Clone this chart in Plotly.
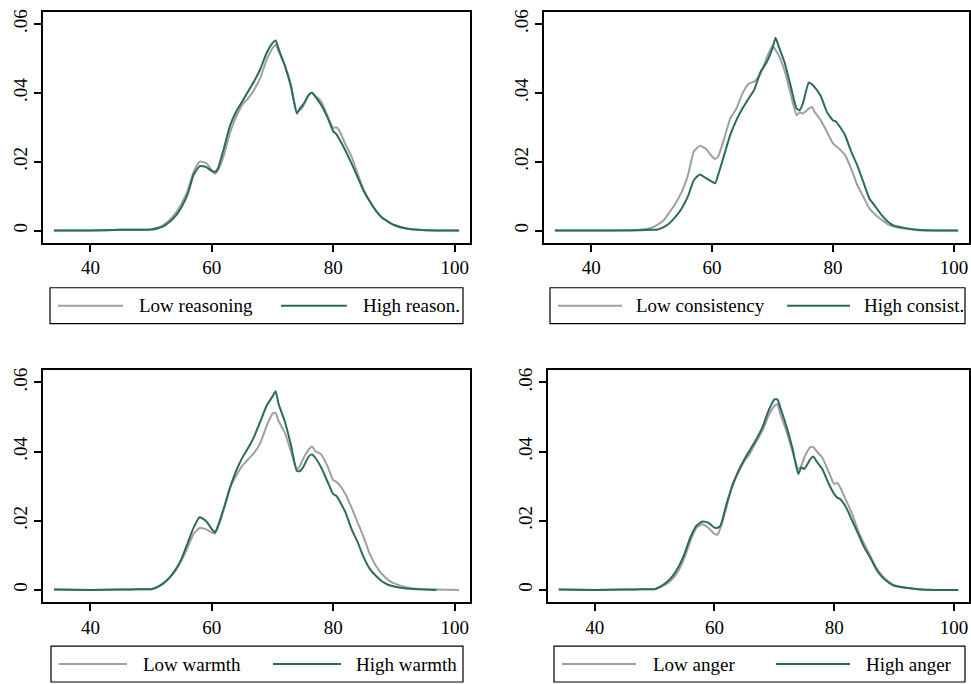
import plotly.graph_objects as go

# Common evaluation grid (score)
x_grid = [34, 40, 45, 48, 50, 51, 52, 53, 54, 55, 56, 57, 58, 59, 60, 60.5, 61, 62, 63, 64,
          65, 66, 67, 68, 69, 70, 70.5, 71, 72, 73, 74, 74.5, 75, 76, 76.5, 77, 78, 79, 80, 80.5,
          81, 82, 83, 84, 85, 86, 87, 88, 89, 90, 92, 94, 97, 100.7]

low_reasoning = [0, 0, 0.0002, 0.0002, 0.0003, 0.0008, 0.0016, 0.003, 0.005, 0.0078, 0.0115, 0.017,
                 0.020, 0.0197, 0.0175, 0.0165, 0.0175, 0.022, 0.0285, 0.033, 0.0365, 0.0385, 0.041,
                 0.0445, 0.0495, 0.053, 0.054, 0.052, 0.048, 0.0425, 0.0344, 0.035, 0.036, 0.0395,
                 0.040, 0.0392, 0.0375, 0.0335, 0.0298, 0.030, 0.029, 0.025, 0.0215, 0.0165, 0.0118,
                 0.0085, 0.0058, 0.0038, 0.0026, 0.0016, 0.0006, 0.0002, 0, 0]
high_reasoning = [0, 0, 0.0002, 0.0002, 0.0003, 0.0006, 0.0012, 0.0025, 0.0042, 0.0068, 0.0105, 0.0162,
                  0.0187, 0.0185, 0.0173, 0.017, 0.018, 0.024, 0.0305, 0.0345, 0.0375, 0.0405, 0.0435,
                  0.047, 0.0515, 0.0545, 0.0552, 0.0527, 0.048, 0.042, 0.034, 0.0355, 0.0365, 0.0395,
                  0.040, 0.039, 0.0365, 0.033, 0.0288, 0.028, 0.0265, 0.0232, 0.0195, 0.0155, 0.0115,
                  0.0085, 0.0058, 0.0038, 0.0026, 0.0016, 0.0006, 0.0002, 0, 0]

low_consistency = [0, 0, 0.0001, 0.0002, 0.0008, 0.0017, 0.003, 0.0054, 0.008, 0.0113, 0.016, 0.023,
                   0.0246, 0.0237, 0.0215, 0.0208, 0.0215, 0.0267, 0.0325, 0.0354, 0.0397, 0.0426,
                   0.0433, 0.0455, 0.050, 0.0536, 0.0525, 0.051, 0.0464, 0.0397, 0.0335, 0.0344, 0.034,
                   0.0354, 0.0359, 0.0344, 0.032, 0.0287, 0.0253, 0.0245, 0.0238, 0.0219, 0.018, 0.0133,
                   0.0099, 0.0065, 0.0046, 0.0032, 0.0019, 0.0012, 0.0005, 0.0001, 0, 0]
high_consistency = [0, 0, 0, 0.0001, 0.0002, 0.0003, 0.001, 0.0022, 0.0041, 0.0065, 0.0099, 0.0147,
                    0.0163, 0.0152, 0.0142, 0.0137, 0.0161, 0.0219, 0.0277, 0.032, 0.0354, 0.0382,
                    0.041, 0.046, 0.0488, 0.053, 0.056, 0.0536, 0.0488, 0.042, 0.0354, 0.035, 0.0368,
                    0.043, 0.0425, 0.0416, 0.039, 0.0344, 0.032, 0.0317, 0.0305, 0.0277, 0.023, 0.019,
                    0.0142, 0.0094, 0.007, 0.0046, 0.0027, 0.0015, 0.0007, 0.0002, 0, 0]

low_warmth = [0.0001, 0, 0.0001, 0.0002, 0.0002, 0.0008, 0.0019, 0.0035, 0.0056, 0.0085, 0.0123, 0.0162,
              0.0179, 0.0176, 0.0166, 0.0163, 0.018, 0.0234, 0.0296, 0.033, 0.0359, 0.0378, 0.0397,
              0.0426, 0.0474, 0.051, 0.0512, 0.0488, 0.0455, 0.0402, 0.0349, 0.0358, 0.0378, 0.0407,
              0.0415, 0.0402, 0.0392, 0.0359, 0.0317, 0.0313, 0.0304, 0.0277, 0.0238, 0.0195, 0.0152,
              0.0104, 0.007, 0.0046, 0.0029, 0.0019, 0.0008, 0.0003, 0.0001, 0]
high_warmth = [0.0001, 0, 0.0001, 0.0002, 0.0002, 0.0008, 0.0019, 0.0035, 0.0058, 0.009, 0.0135, 0.018,
               0.021, 0.020, 0.0176, 0.0166, 0.0185, 0.0238, 0.0296, 0.0344, 0.0382, 0.0411, 0.0445,
               0.0488, 0.0532, 0.056, 0.0575, 0.0537, 0.0488, 0.0421, 0.0344, 0.0344, 0.0354, 0.0387,
               0.0392, 0.0383, 0.0354, 0.0315, 0.0277, 0.0272, 0.0258, 0.0224, 0.0176, 0.0138, 0.0094,
               0.0061, 0.0041, 0.0025, 0.0015, 0.001, 0.0004, 0.0002, 0, None]

low_anger = [0.0001, 0, 0.0001, 0.0002, 0.0002, 0.0008, 0.0017, 0.0032, 0.0056, 0.0094, 0.0142, 0.018,
             0.019, 0.0179, 0.0162, 0.016, 0.018, 0.0238, 0.0306, 0.034, 0.0373, 0.0397, 0.043, 0.046,
             0.0503, 0.0532, 0.0537, 0.0508, 0.046, 0.0402, 0.035, 0.036, 0.0383, 0.0413, 0.0413,
             0.0402, 0.0383, 0.0344, 0.0306, 0.031, 0.0296, 0.0258, 0.0219, 0.0171, 0.0133, 0.0099,
             0.0065, 0.0041, 0.0025, 0.0014, 0.0006, 0.0002, 0, 0]
high_anger = [0.0001, 0, 0.0001, 0.0002, 0.0002, 0.001, 0.0022, 0.004, 0.0067, 0.0105, 0.0153, 0.0186,
              0.0198, 0.0194, 0.018, 0.018, 0.0186, 0.0248, 0.0301, 0.0344, 0.0378, 0.0407, 0.0436,
              0.047, 0.0517, 0.0551, 0.0551, 0.0527, 0.0474, 0.0411, 0.0335, 0.0354, 0.035, 0.0378,
              0.0386, 0.0373, 0.035, 0.031, 0.0277, 0.0267, 0.0263, 0.0238, 0.02, 0.0162, 0.0123,
              0.0094, 0.006, 0.0037, 0.0022, 0.0012, 0.0006, 0.0002, 0, 0]

x_ticks = [40, 60, 80, 100]
y_ticks = [0, 0.02, 0.04, 0.06]
y_tick_labels = ["0", ".02", ".04", ".06"]

panels = [
    ("Low reasoning", "High reason.", low_reasoning, high_reasoning),
    ("Low consistency", "High consist.", low_consistency, high_consistency),
    ("Low warmth", "High warmth", low_warmth, high_warmth),
    ("Low anger", "High anger", low_anger, high_anger),
]

W, H = 971, 684
GRAY = "#a0a0a0"
GREEN = "#2b6a62"
FONT = "Liberation Serif, Times New Roman, serif"

# pixel layout for each panel: plot box (x0, x1, ytop, ybottom), legend box and items
boxes = [
    dict(px=(43, 470), py=(9, 241), leg=(50, 463, 286, 322), s1=(58, 123), t1=137, s2=(281, 347), t2=361),
    dict(px=(544, 969), py=(9, 241), leg=(550, 965, 286, 322), s1=(558, 622), t1=634, s2=(787, 850), t2=862),
    dict(px=(43, 470), py=(369, 602), leg=(51, 463, 646, 682), s1=(59, 127), t1=141, s2=(273, 341), t2=354),
    dict(px=(548, 969), py=(369, 602), leg=(554, 965, 646, 682), s1=(562, 636), t1=651, s2=(776, 850), t2=864),
]

fig = go.Figure()
shapes = []
annotations = []

for i, ((lo_name, hi_name, lo, hi), b) in enumerate(zip(panels, boxes)):
    k = "" if i == 0 else str(i + 1)
    xa, ya = "x" + k, "y" + k
    fig.add_trace(go.Scatter(x=x_grid, y=lo, mode="lines", name=lo_name,
                             line=dict(color=GRAY, width=2, shape="spline", smoothing=0.5),
                             xaxis=xa, yaxis=ya, showlegend=False))
    fig.add_trace(go.Scatter(x=x_grid, y=hi, mode="lines", name=hi_name,
                             line=dict(color=GREEN, width=2, shape="spline", smoothing=0.5),
                             xaxis=xa, yaxis=ya, showlegend=False))
    xd = [b["px"][0] / W, b["px"][1] / W]
    yd = [1 - b["py"][1] / H, 1 - b["py"][0] / H]
    axis_common = dict(showline=True, mirror=True, linecolor="black", linewidth=1.5,
                       ticks="outside", ticklen=7, tickwidth=1.5, tickcolor="black",
                       showgrid=False, zeroline=False,
                       tickfont=dict(family=FONT, size=19, color="black"))
    fig.layout["xaxis" + k] = dict(domain=xd, range=[32.2, 102.5], tickvals=x_ticks,
                                   anchor=ya, **axis_common)
    fig.layout["yaxis" + k] = dict(domain=yd, range=[-0.0036, 0.0635], tickvals=y_ticks,
                                   ticktext=y_tick_labels, tickangle=-90, anchor=xa,
                                   **axis_common)
    # legend box drawn manually
    lx0, lx1, ly0, ly1 = b["leg"]
    shapes.append(dict(type="rect", xref="paper", yref="paper",
                       x0=lx0 / W, x1=lx1 / W, y0=1 - ly1 / H, y1=1 - ly0 / H,
                       line=dict(color="black", width=1.2), fillcolor="white"))
    ymid = 1 - ((ly0 + ly1) / 2) / H
    for (sx0, sx1), col in ((b["s1"], GRAY), (b["s2"], GREEN)):
        shapes.append(dict(type="line", xref="paper", yref="paper",
                           x0=sx0 / W, x1=sx1 / W, y0=ymid, y1=ymid,
                           line=dict(color=col, width=2)))
    for tx, txt in ((b["t1"], lo_name), (b["t2"], hi_name)):
        annotations.append(dict(xref="paper", yref="paper", x=tx / W, y=ymid,
                                xanchor="left", yanchor="middle", text=txt, showarrow=False,
                                font=dict(family=FONT, size=19, color="black")))

fig.update_layout(width=W, height=H, margin=dict(l=0, r=0, t=0, b=0),
                  paper_bgcolor="white", plot_bgcolor="white",
                  shapes=shapes, annotations=annotations, showlegend=False)

fig.write_html("out.html", config={"displayModeBar": False},
               post_script="document.body.style.margin='0';document.body.style.overflow='hidden';")
